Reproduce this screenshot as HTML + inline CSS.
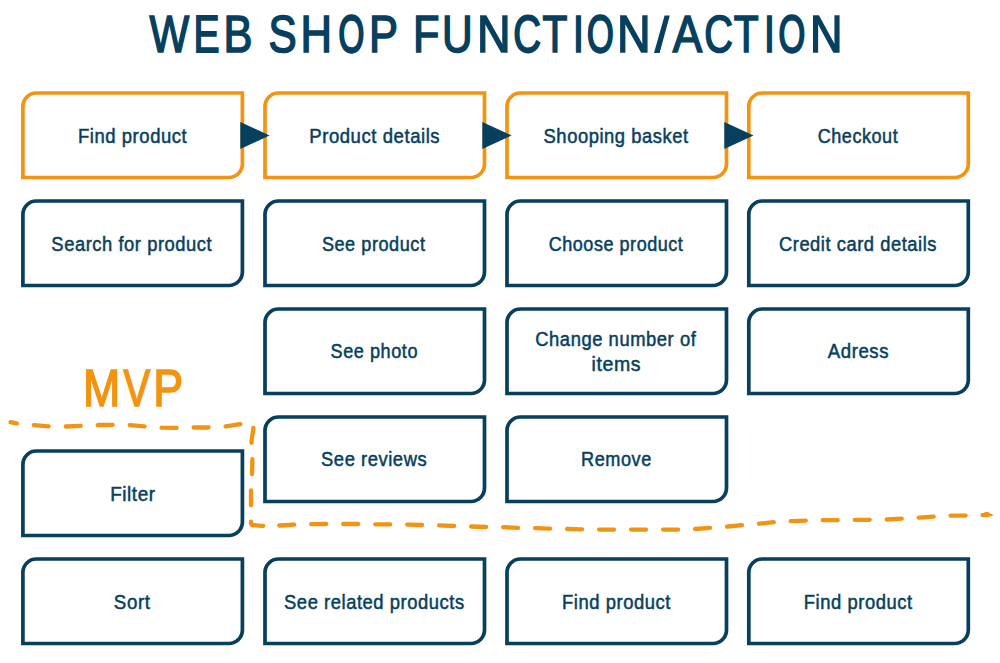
<!DOCTYPE html>
<html><head><meta charset="utf-8">
<style>
html,body{margin:0;padding:0;background:#fff;}
svg{display:block;}
text{font-family:"Liberation Sans", sans-serif;}
</style></head>
<body>
<svg width="1000" height="663" viewBox="0 0 1000 663">
<rect width="1000" height="663" fill="#fff"/>
<text transform="translate(149.41,51.90) scale(0.8118,1)" font-size="51.8" fill="#073f5e" stroke="#073f5e" stroke-width="1.60">W</text>
<text transform="translate(193.54,51.90) scale(0.7548,1)" font-size="51.8" fill="#073f5e" stroke="#073f5e" stroke-width="1.75">E</text>
<text transform="translate(223.48,51.90) scale(0.8400,1)" font-size="51.8" fill="#073f5e" stroke="#073f5e" stroke-width="1.60">B</text>
<text transform="translate(268.38,51.90) scale(0.8156,1)" font-size="51.8" fill="#073f5e" stroke="#073f5e" stroke-width="1.60">S</text>
<text transform="translate(300.57,51.90) scale(0.8419,1)" font-size="51.8" fill="#073f5e" stroke="#073f5e" stroke-width="1.60">H</text>
<text transform="translate(338.46,51.90) scale(0.6395,1)" font-size="51.8" fill="#073f5e" stroke="#073f5e" stroke-width="2.44">O</text>
<text transform="translate(368.98,51.90) scale(0.8400,1)" font-size="51.8" fill="#073f5e" stroke="#073f5e" stroke-width="1.60">P</text>
<text transform="translate(413.09,51.90) scale(0.8357,1)" font-size="51.8" fill="#073f5e" stroke="#073f5e" stroke-width="1.60">F</text>
<text transform="translate(441.94,51.90) scale(0.8188,1)" font-size="51.8" fill="#073f5e" stroke="#073f5e" stroke-width="1.60">U</text>
<text transform="translate(476.90,51.90) scale(0.9000,1)" font-size="51.8" fill="#073f5e" stroke="#073f5e" stroke-width="1.60">N</text>
<text transform="translate(513.22,51.90) scale(0.7412,1)" font-size="51.8" fill="#073f5e" stroke="#073f5e" stroke-width="1.83">C</text>
<text transform="translate(542.60,51.90) scale(0.7875,1)" font-size="51.8" fill="#073f5e" stroke="#073f5e" stroke-width="1.60">T</text>
<text transform="translate(572.64,51.90) scale(0.7875,1)" font-size="51.8" fill="#073f5e" stroke="#073f5e" stroke-width="1.60">I</text>
<text transform="translate(586.94,51.90) scale(0.6632,1)" font-size="51.8" fill="#073f5e" stroke="#073f5e" stroke-width="2.30">O</text>
<text transform="translate(617.10,51.90) scale(0.9000,1)" font-size="51.8" fill="#073f5e" stroke="#073f5e" stroke-width="1.60">N</text>
<text transform="translate(672.85,51.90) scale(0.8500,1)" font-size="51.8" fill="#073f5e" stroke="#073f5e" stroke-width="1.60">A</text>
<text transform="translate(704.26,51.90) scale(0.7676,1)" font-size="51.8" fill="#073f5e" stroke="#073f5e" stroke-width="1.67">C</text>
<text transform="translate(733.70,51.90) scale(0.7875,1)" font-size="51.8" fill="#073f5e" stroke="#073f5e" stroke-width="1.60">T</text>
<text transform="translate(763.74,51.90) scale(0.7875,1)" font-size="51.8" fill="#073f5e" stroke="#073f5e" stroke-width="1.60">I</text>
<text transform="translate(778.54,51.90) scale(0.6632,1)" font-size="51.8" fill="#073f5e" stroke="#073f5e" stroke-width="2.30">O</text>
<text transform="translate(809.89,51.90) scale(0.8710,1)" font-size="51.8" fill="#073f5e" stroke="#073f5e" stroke-width="1.60">N</text>
<path d="M664.6,15.5 L669.8,15.5 L659.6,53.1 L654,53.1 Z" fill="#073f5e"/>
<text transform="translate(83.01,406.00) scale(0.8622,1)" font-size="51.8" fill="#f29412" stroke="#f29412" stroke-width="1.60">M</text>
<text transform="translate(123.48,406.00) scale(0.7750,1)" font-size="51.8" fill="#f29412" stroke="#f29412" stroke-width="1.63">V</text>
<text transform="translate(153.20,406.00) scale(0.8667,1)" font-size="51.8" fill="#f29412" stroke="#f29412" stroke-width="1.60">P</text>
<path d="M984.5,512.1 L988,512.0 L993.8,515.4 L988,516.9 L984.5,517.0 Z" fill="#f29412"/>
<path d="M10.5,422.2 L16.3,423.4 L34.5,425.1 L47.9,426.3 L66.1,426.5 L79.9,425.9 L98.5,425.0 L111.9,424.8 L130.5,425.1 L143.9,426.3 L162.5,427.6 L175.9,427.8 L193.9,427.5 L208.3,427.5 L226.1,426.3 L239.7,424.2 L247.0,423.2" fill="none" stroke="#f29412" stroke-width="4.3" stroke-linecap="round" stroke-linejoin="round" stroke-dasharray="15.0 17.00" stroke-dashoffset="8.50"/>
<path d="M247.0,423.2 L250.0,423.0 L253.0,424.5 L253.4,428.5 L251.5,441.0 L252.4,459.9 L252.0,473.4 L251.0,491.1 L251.0,504.9 L251.0,523.5 L252.0,525.0 L262.0,525.8 L270.0,525.7" fill="none" stroke="#f29412" stroke-width="4.3" stroke-linecap="round" stroke-linejoin="round" stroke-dasharray="15.0 16.30" stroke-dashoffset="21.50"/>
<path d="M270.0,525.7 L279.7,525.5 L294.7,524.7 L311.7,524.1 L326.7,524.0 L343.7,524.0 L358.7,524.0 L375.7,524.3 L390.7,524.4 L408.1,524.6 L422.3,525.0 L439.7,525.4 L453.9,526.0 L471.7,526.5 L485.9,527.0 L503.7,527.2 L517.9,527.9 L535.7,528.2 L549.9,528.6 L567.7,529.0 L581.9,529.4 L600.1,529.6 L613.9,529.6 L631.7,529.6 L645.9,529.6 L663.7,529.6 L677.9,529.6 L695.7,529.0 L709.9,527.8 L727.7,526.5 L741.9,525.2 L759.7,523.6 L773.9,522.1 L792.1,521.1 L805.1,520.7 L823.1,520.2 L837.9,520.2 L855.1,519.8 L869.9,519.8 L887.1,519.5 L901.7,518.6 L919.1,517.6 L933.2,516.7 L951.1,515.6 L965.9,515.6 L982.1,515.1 L987.0,514.9" fill="none" stroke="#f29412" stroke-width="4.3" stroke-linecap="round" stroke-linejoin="round" stroke-dasharray="15.0 17.00" stroke-dashoffset="22.80"/>
<path d="M22.90,106.50 A13.5,13.5 0 0 1 36.40,93.00 H242.40 V164.00 A13.5,13.5 0 0 1 228.90,177.50 H22.90 Z" fill="none" stroke="#f29412" stroke-width="3.7"/>
<path d="M22.90,214.50 A13.5,13.5 0 0 1 36.40,201.00 H242.40 V272.00 A13.5,13.5 0 0 1 228.90,285.50 H22.90 Z" fill="none" stroke="#073f5e" stroke-width="3.7"/>
<path d="M265.00,106.50 A13.5,13.5 0 0 1 278.50,93.00 H484.50 V164.00 A13.5,13.5 0 0 1 471.00,177.50 H265.00 Z" fill="none" stroke="#f29412" stroke-width="3.7"/>
<path d="M265.00,214.50 A13.5,13.5 0 0 1 278.50,201.00 H484.50 V272.00 A13.5,13.5 0 0 1 471.00,285.50 H265.00 Z" fill="none" stroke="#073f5e" stroke-width="3.7"/>
<path d="M507.00,106.50 A13.5,13.5 0 0 1 520.50,93.00 H726.50 V164.00 A13.5,13.5 0 0 1 713.00,177.50 H507.00 Z" fill="none" stroke="#f29412" stroke-width="3.7"/>
<path d="M507.00,214.50 A13.5,13.5 0 0 1 520.50,201.00 H726.50 V272.00 A13.5,13.5 0 0 1 713.00,285.50 H507.00 Z" fill="none" stroke="#073f5e" stroke-width="3.7"/>
<path d="M748.80,106.50 A13.5,13.5 0 0 1 762.30,93.00 H968.30 V164.00 A13.5,13.5 0 0 1 954.80,177.50 H748.80 Z" fill="none" stroke="#f29412" stroke-width="3.7"/>
<path d="M748.80,214.50 A13.5,13.5 0 0 1 762.30,201.00 H968.30 V272.00 A13.5,13.5 0 0 1 954.80,285.50 H748.80 Z" fill="none" stroke="#073f5e" stroke-width="3.7"/>
<path d="M265.00,322.50 A13.5,13.5 0 0 1 278.50,309.00 H484.50 V380.00 A13.5,13.5 0 0 1 471.00,393.50 H265.00 Z" fill="none" stroke="#073f5e" stroke-width="3.7"/>
<path d="M507.00,322.50 A13.5,13.5 0 0 1 520.50,309.00 H726.50 V380.00 A13.5,13.5 0 0 1 713.00,393.50 H507.00 Z" fill="none" stroke="#073f5e" stroke-width="3.7"/>
<path d="M748.80,322.50 A13.5,13.5 0 0 1 762.30,309.00 H968.30 V380.00 A13.5,13.5 0 0 1 954.80,393.50 H748.80 Z" fill="none" stroke="#073f5e" stroke-width="3.7"/>
<path d="M265.00,430.50 A13.5,13.5 0 0 1 278.50,417.00 H484.50 V488.00 A13.5,13.5 0 0 1 471.00,501.50 H265.00 Z" fill="none" stroke="#073f5e" stroke-width="3.7"/>
<path d="M507.00,430.50 A13.5,13.5 0 0 1 520.50,417.00 H726.50 V488.00 A13.5,13.5 0 0 1 713.00,501.50 H507.00 Z" fill="none" stroke="#073f5e" stroke-width="3.7"/>
<path d="M22.90,464.50 A13.5,13.5 0 0 1 36.40,451.00 H242.40 V522.00 A13.5,13.5 0 0 1 228.90,535.50 H22.90 Z" fill="none" stroke="#073f5e" stroke-width="3.7"/>
<path d="M22.90,572.50 A13.5,13.5 0 0 1 36.40,559.00 H242.40 V630.00 A13.5,13.5 0 0 1 228.90,643.50 H22.90 Z" fill="none" stroke="#073f5e" stroke-width="3.7"/>
<path d="M265.00,572.50 A13.5,13.5 0 0 1 278.50,559.00 H484.50 V630.00 A13.5,13.5 0 0 1 471.00,643.50 H265.00 Z" fill="none" stroke="#073f5e" stroke-width="3.7"/>
<path d="M507.00,572.50 A13.5,13.5 0 0 1 520.50,559.00 H726.50 V630.00 A13.5,13.5 0 0 1 713.00,643.50 H507.00 Z" fill="none" stroke="#073f5e" stroke-width="3.7"/>
<path d="M748.80,572.50 A13.5,13.5 0 0 1 762.30,559.00 H968.30 V630.00 A13.5,13.5 0 0 1 954.80,643.50 H748.80 Z" fill="none" stroke="#073f5e" stroke-width="3.7"/>
<path d="M240.3,121.9 L269.5,135.5 L240.3,149.1 Z" fill="#073f5e"/>
<path d="M482.3,121.9 L511.5,135.5 L482.3,149.1 Z" fill="#073f5e"/>
<path d="M724.3,121.9 L753.5,135.5 L724.3,149.1 Z" fill="#073f5e"/>
<text transform="translate(77.96,142.80) scale(0.9374,1)" font-size="19.7" fill="#073f5e" stroke="#073f5e" stroke-width="0.5" letter-spacing="0.6">Find product</text>
<text transform="translate(309.26,142.80) scale(0.9401,1)" font-size="19.7" fill="#073f5e" stroke="#073f5e" stroke-width="0.5" letter-spacing="0.6">Product details</text>
<text transform="translate(543.57,142.80) scale(0.9325,1)" font-size="19.7" fill="#073f5e" stroke="#073f5e" stroke-width="0.5" letter-spacing="0.6">Shooping basket</text>
<text transform="translate(817.69,142.80) scale(0.9149,1)" font-size="19.7" fill="#073f5e" stroke="#073f5e" stroke-width="0.5" letter-spacing="0.6">Checkout</text>
<text transform="translate(51.37,250.70) scale(0.9314,1)" font-size="19.7" fill="#073f5e" stroke="#073f5e" stroke-width="0.5" letter-spacing="0.6">Search for product</text>
<text transform="translate(321.88,250.70) scale(0.9187,1)" font-size="19.7" fill="#073f5e" stroke="#073f5e" stroke-width="0.5" letter-spacing="0.6">See product</text>
<text transform="translate(548.69,250.70) scale(0.9137,1)" font-size="19.7" fill="#073f5e" stroke="#073f5e" stroke-width="0.5" letter-spacing="0.6">Choose product</text>
<text transform="translate(778.97,250.70) scale(0.9292,1)" font-size="19.7" fill="#073f5e" stroke="#073f5e" stroke-width="0.5" letter-spacing="0.6">Credit card details</text>
<text transform="translate(330.58,358.40) scale(0.9183,1)" font-size="19.7" fill="#073f5e" stroke="#073f5e" stroke-width="0.5" letter-spacing="0.6">See photo</text>
<text transform="translate(535.27,345.90) scale(0.9331,1)" font-size="19.7" fill="#073f5e" stroke="#073f5e" stroke-width="0.5" letter-spacing="0.6">Change number of</text>
<text transform="translate(591.61,371.20) scale(0.9896,1)" font-size="19.7" fill="#073f5e" stroke="#073f5e" stroke-width="0.5" letter-spacing="0.6">items</text>
<text transform="translate(827.80,358.40) scale(0.9438,1)" font-size="19.7" fill="#073f5e" stroke="#073f5e" stroke-width="0.5" letter-spacing="0.6">Adress</text>
<text transform="translate(321.07,465.90) scale(0.9321,1)" font-size="19.7" fill="#073f5e" stroke="#073f5e" stroke-width="0.5" letter-spacing="0.6">See reviews</text>
<text transform="translate(581.08,465.90) scale(0.9200,1)" font-size="19.7" fill="#073f5e" stroke="#073f5e" stroke-width="0.5" letter-spacing="0.6">Remove</text>
<text transform="translate(110.14,500.80) scale(0.9609,1)" font-size="19.7" fill="#073f5e" stroke="#073f5e" stroke-width="0.5" letter-spacing="0.6">Filter</text>
<text transform="translate(113.85,608.60) scale(0.9514,1)" font-size="19.7" fill="#073f5e" stroke="#073f5e" stroke-width="0.5" letter-spacing="0.6">Sort</text>
<text transform="translate(284.07,608.60) scale(0.9323,1)" font-size="19.7" fill="#073f5e" stroke="#073f5e" stroke-width="0.5" letter-spacing="0.6">See related products</text>
<text transform="translate(561.97,608.60) scale(0.9348,1)" font-size="19.7" fill="#073f5e" stroke="#073f5e" stroke-width="0.5" letter-spacing="0.6">Find product</text>
<text transform="translate(803.77,608.60) scale(0.9339,1)" font-size="19.7" fill="#073f5e" stroke="#073f5e" stroke-width="0.5" letter-spacing="0.6">Find product</text>
</svg>
</body></html>
